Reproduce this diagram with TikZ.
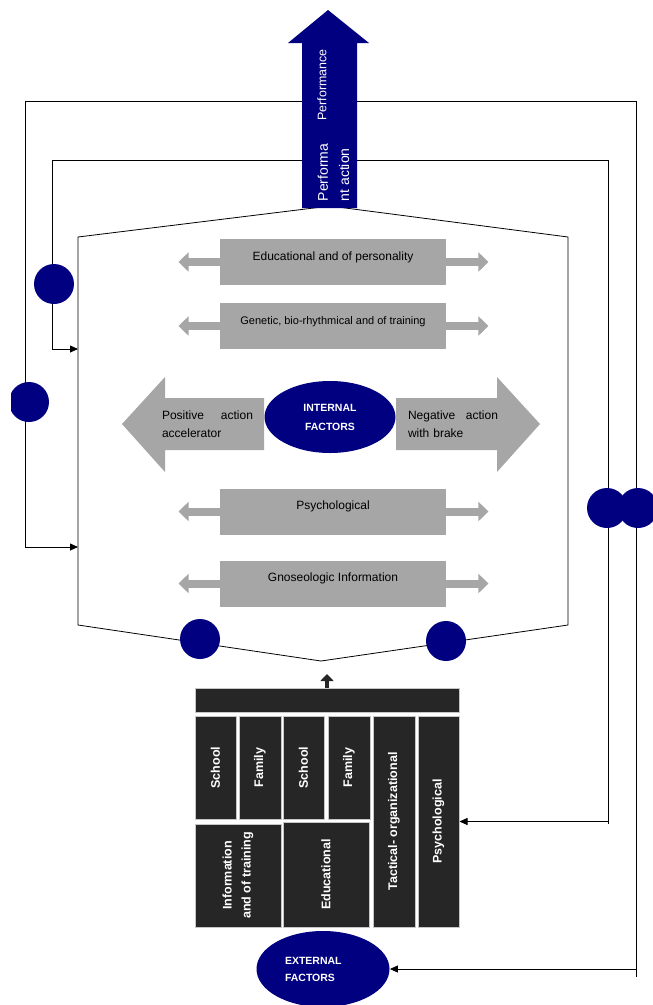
\documentclass[tikz,border=0pt]{standalone}
\usepackage{fontspec}
\setmainfont{Liberation Sans}
\usetikzlibrary{shapes.geometric,arrows.meta}
\definecolor{navy}{RGB}{0,0,128}
\definecolor{boxgray}{RGB}{166,166,166}
\definecolor{boxdark}{RGB}{38,38,38}
\tikzstyle{factor}=[ellipse,fill=navy,text=white,inner sep=0pt]

\begin{document}
\begin{tikzpicture}[x=1pt,y=-1pt,line width=0.8pt]
    \tikzstyle{arr}=[-{Triangle[length=8pt,width=7pt]}]
    \tikzstyle{dot}=[circle,fill=navy,minimum size=40pt,inner sep=0pt]
    \tikzstyle{gbox}=[fill=boxgray,minimum width=226pt,inner xsep=0pt,inner ysep=4pt,text height=17pt,text depth=21pt,font=\fontsize{12}{14}\selectfont]
    \tikzstyle{garrow}=[draw=boxgray,line width=8pt,-{Triangle[length=10pt,width=19pt]}]
    \tikzstyle{ebox}=[fill=boxdark,draw=gray!45,line width=1pt,text=white,rotate=90,align=center,inner sep=0pt,font=\fontsize{12.5}{19}\selectfont\bfseries]
    \useasboundingbox (0,0) rectangle (653,1005);
    % feedback loops
    \coordinate (outNE) at (636,101);
    \coordinate (outNW) at (25,101);
    \coordinate (inNE) at (608,160);
    \coordinate (inNW) at (52,160);
    \coordinate (octW1) at (78,349);
    \coordinate (octW2) at (78,547);
    \coordinate (octS) at (321,661);
    \draw[arr] (outNE) -- (outNW) -- (outNW |- octW2) -- (octW2);
    \draw[arr] (inNE) -- (inNW) -- (inNW |- octW1) -- (octW1);
    \draw (outNE) -- (636,977);
    \draw (inNE) -- (608,824);
    \draw (78,237) -- (330,206) -- (568,237) -- (568,625) -- (octS) -- (78,625) -- cycle;
    % performance arrow
    \fill[navy] (302,208) -- (302,43) -- (288,43) -- (328,10) -- (369,43) -- (357,43) -- (357,208) -- cycle;
    \node[rotate=90,text=white,font=\fontsize{12.4}{14}\selectfont] (perf) at (322,85) {Performance};
    \node[rotate=90,text=white,align=left,font=\fontsize{14}{21}\selectfont] (perfact) at (333.5,172.5) {Performa\\nt action};
    % internal factors
    \node[gbox] (edu) at (333,262) {Educational and of personality};
    \node[gbox,font=\fontsize{11}{13}\selectfont] (gen) at (333,326) {Genetic, bio-rhythmical and of training};
    \node[gbox] (psy) at (333,511.5) {Psychological};
    \node[gbox] (gno) at (333,583.5) {Gnoseologic Information};
    \foreach \b in {edu,gen,psy,gno} {
        \draw[garrow] (\b.west) -- ([xshift=-41pt]\b.west);
        \draw[garrow] (\b.east) -- ([xshift=42pt]\b.east);
    }
    \fill[boxgray] (264,398) -- (165,398) -- (165,377) -- (122,424) -- (165,472) -- (165,450) -- (264,450) -- cycle;
    \fill[boxgray] (396,398) -- (497,398) -- (497,377) -- (540,424) -- (497,472) -- (497,450) -- (396,450) -- cycle;
    \node[text width=91pt,align=left,inner sep=0pt,font=\fontsize{12}{18}\selectfont] (pos) at (207.5,424) {Positive\hfill action\\accelerator};
    \node[text width=90pt,align=left,inner sep=0pt,font=\fontsize{12}{18}\selectfont] (neg) at (453,424) {Negative\hfill action\\with brake};
    \node[factor,minimum width=131pt,minimum height=72pt,align=center,font=\fontsize{10.5}{19}\selectfont\bfseries] (int) at (330,417) {INTERNAL\\FACTORS};
    % external factors
    \node[fill=boxdark,draw=gray!45,line width=1pt,minimum width=264pt,minimum height=24pt] (bar) at (327,700) {};
    \draw[line width=4pt,boxdark,-{Triangle[length=7pt,width=13pt]},shorten >=13pt] (bar.north) -- (bar.north |- octS);
    \node[ebox,minimum width=103pt,minimum height=41pt] (sch1) at (215.5,767.5) {School};
    \node[ebox,minimum width=103pt,minimum height=42pt] (fam1) at (260,767.5) {Family};
    \node[ebox,minimum width=103pt,minimum height=41pt] (sch2) at (303.5,767.5) {School};
    \node[ebox,minimum width=103pt,minimum height=42pt] (fam2) at (349,767.5) {Family};
    \node[ebox,minimum width=211pt,minimum height=42pt] (tact) at (394,821.5) {Tactical- organizational};
    \node[ebox,minimum width=211pt,minimum height=41pt] (epsy) at (438.5,821.5) {Psychological};
    \node[ebox,minimum width=103pt,minimum height=86pt] (info) at (238,875.5) {Information\\and of training};
    \node[ebox,minimum width=105pt,minimum height=86pt] (educ) at (326,874.5) {Educational};
    \node[factor,minimum width=133pt,minimum height=76pt,text width=76pt,align=left,font=\fontsize{10.5}{17}\selectfont\bfseries] (ext) at (323,969) {EXTERNAL\\FACTORS};
    \draw[arr] (ext.east -| outNE) -- (ext.east);
    % epsy is rotated, so its right side is its south anchor
    \draw[arr] (epsy.south -| inNE) -- (epsy.south);
    % junction dots
    \node[dot] (lc1) at (54,284) {};
    \begin{scope}
        \clip (11,370) rectangle (60,440);
        \node[dot] (lc2) at (29,402) {};
    \end{scope}
    \node[dot] (rc1) at (607,508) {};
    \node[dot] (rc2) at (638,508) {};
    \node[dot] (bc1) at (200,639) {};
    \node[dot] (bc2) at (446,641) {};
\end{tikzpicture}
\end{document}
